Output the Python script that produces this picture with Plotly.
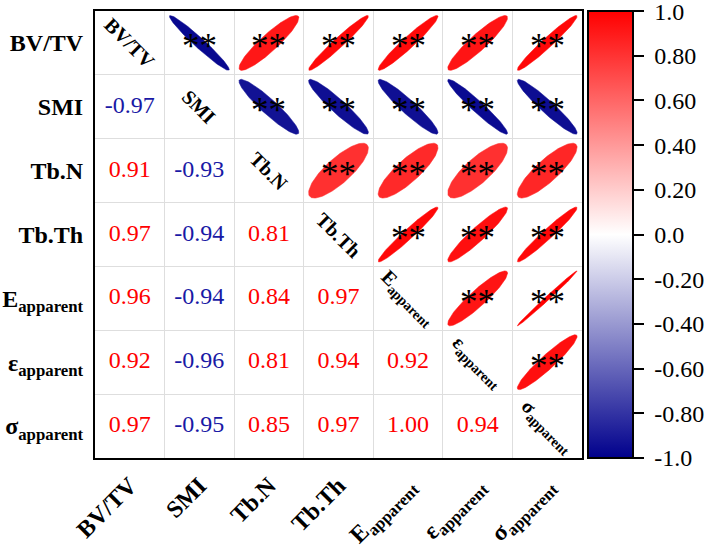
import numpy as np
import plotly.graph_objects as go
from plotly.colors import sample_colorscale

# Variables (orden de filas / columnas)
etiquetas = ['BV/TV', 'SMI', 'Tb.N', 'Tb.Th',
             'E<sub>apparent</sub>', 'ε<sub>apparent</sub>', 'σ<sub>apparent</sub>']

# Triángulo inferior de la matriz de correlación
fila_bvtv = [1.00]
fila_smi = [-0.97, 1.00]
fila_tbn = [0.91, -0.93, 1.00]
fila_tbth = [0.97, -0.94, 0.81, 1.00]
fila_e = [0.96, -0.94, 0.84, 0.97, 1.00]
fila_eps = [0.92, -0.96, 0.81, 0.94, 0.92, 1.00]
fila_sigma = [0.97, -0.95, 0.85, 0.97, 1.00, 0.94, 1.00]

marca_sig = '**'

# Escala de colores y marcas de la barra
escala = [[0.0, 'rgb(0,0,140)'], [0.5, 'rgb(255,255,255)'], [1.0, 'rgb(255,0,0)']]
cb_vals = [-1.0, -0.8, -0.6, -0.4, -0.2, 0.0, 0.2, 0.4, 0.6, 0.8, 1.0]
cb_text = ['-1.0', '-0.80', '-0.60', '-0.40', '-0.20', '0.0',
           '0.20', '0.40', '0.60', '0.80', '1.0']

filas = [fila_bvtv, fila_smi, fila_tbn, fila_tbth, fila_e, fila_eps, fila_sigma]
n = len(etiquetas)
corr = np.eye(n)
for i, fila in enumerate(filas):
    for j, v in enumerate(fila):
        corr[i, j] = v
        corr[j, i] = v

FUENTE = 'Liberation Serif'
fig = go.Figure()

# Elipses en el triángulo superior
t = np.linspace(0, 2 * np.pi, 120)
esc = 0.43
for i in range(n):
    for j in range(i + 1, n):
        r = corr[i, j]
        d = np.arccos(np.clip(r, -0.995, 0.995))
        u = np.cos(t + d / 2)
        v = np.cos(t - d / 2)
        color = sample_colorscale(escala, [(r + 1) / 2])[0]
        fig.add_trace(go.Scatter(
            x=j + esc * u, y=i - esc * v,
            mode='lines', fill='toself', fillcolor=color,
            line=dict(color=color, width=0.5),
            hoverinfo='skip', showlegend=False
        ))
        # marca de significación
        fig.add_annotation(
            x=j, y=i, xref='x', yref='y', text=marca_sig, showarrow=False,
            yshift=-4, font=dict(family=FUENTE, size=35, color='black')
        )

# Valores en el triángulo inferior
num_x, num_y, num_t, num_c = [], [], [], []
for i in range(n):
    for j in range(i):
        r = corr[i, j]
        num_x.append(j)
        num_y.append(i)
        num_t.append(f'{r:.2f}')
        num_c.append('rgb(255,0,0)' if r > 0 else 'rgb(25,25,165)')

fig.add_trace(go.Scatter(
    x=num_x, y=num_y, mode='text', text=num_t,
    textfont=dict(family=FUENTE, size=24, color=num_c),
    hoverinfo='skip', showlegend=False
))

# Nombres en la diagonal
for k, et in enumerate(etiquetas):
    fig.add_annotation(
        x=k, y=k, xref='x', yref='y', text=et, showarrow=False,
        textangle=45, font=dict(family=FUENTE, size=20, color='black', weight='bold')
    )

# Traza auxiliar para la barra de color
fig.add_trace(go.Scatter(
    x=[None], y=[None], mode='markers',
    marker=dict(color=[0], colorscale=escala, cmin=-1.0005, cmax=1.0005, showscale=True,
                colorbar=dict(
                    x=0.9164, xanchor='left', y=0.5, yanchor='middle',
                    len=1, lenmode='fraction', thickness=45, xpad=0, ypad=0,
                    outlinecolor='black', outlinewidth=2,
                    tickvals=cb_vals, ticktext=[' ' + s for s in cb_text],
                    ticks='outside', ticklen=10, tickwidth=2, tickcolor='black',
                    ticklabeloverflow='allow',
                    tickfont=dict(family=FUENTE, size=24, color='black')
                )),
    hoverinfo='skip', showlegend=False
))

eje = dict(
    tickmode='array', tickvals=list(range(n)), ticktext=etiquetas,
    showgrid=False, zeroline=False,
    showline=True, mirror=True, linecolor='black', linewidth=2,
    ticks='',
    tickfont=dict(family=FUENTE, size=24, color='black', weight='bold'),
    minor=dict(tickmode='linear', tick0=0.5, dtick=1, showgrid=True,
               gridcolor='#dedede', gridwidth=1, ticks='')
)

fig.update_layout(
    width=706, height=548,
    margin=dict(l=95, r=73, t=11, b=90, autoexpand=False),
    plot_bgcolor='white', paper_bgcolor='white',
    xaxis=dict(eje, domain=[0, 0.9052], range=[-0.5, n - 0.5],
               tickangle=-45, ticklabelstandoff=2),
    yaxis=dict(eje, range=[n - 0.5, -0.5], ticklabelstandoff=5),
)

# sin margen del body para que la figura ocupe la ventana completa
fig.write_html('out.html', config={'displayModeBar': False},
               post_script="document.body.style.margin='0';")
